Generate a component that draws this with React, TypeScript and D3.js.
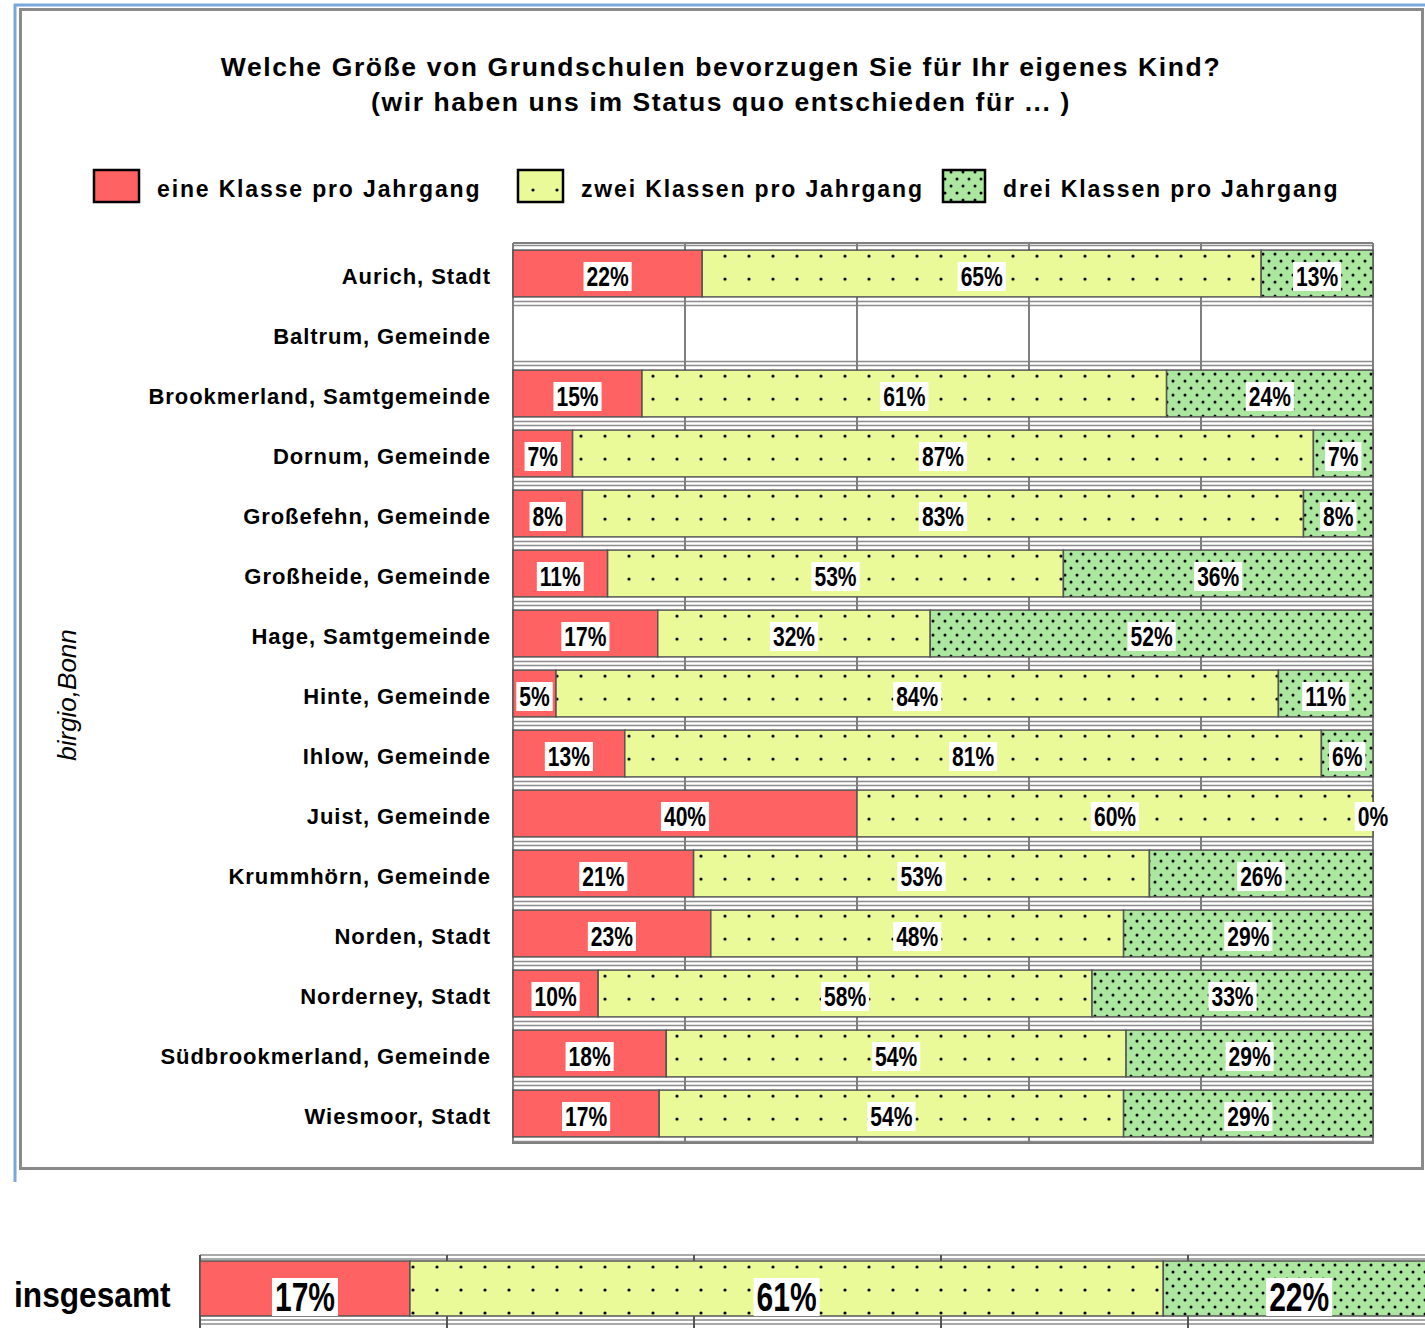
import * as d3 from 'd3';
import { useEffect, useRef } from 'react';

const categories = [
    "Aurich, Stadt",
    "Baltrum, Gemeinde",
    "Brookmerland, Samtgemeinde",
    "Dornum, Gemeinde",
    "Großefehn, Gemeinde",
    "Großheide, Gemeinde",
    "Hage, Samtgemeinde",
    "Hinte, Gemeinde",
    "Ihlow, Gemeinde",
    "Juist, Gemeinde",
    "Krummhörn, Gemeinde",
    "Norden, Stadt",
    "Norderney, Stadt",
    "Südbrookmerland, Gemeinde",
    "Wiesmoor, Stadt",
];
const eineKlasse = [22, null, 15, 7, 8, 11, 17, 5, 13, 40, 21, 23, 10, 18, 17];
const zweiKlassen = [65, null, 61, 87, 83, 53, 32, 84, 81, 60, 53, 48, 58, 54, 54];
const dreiKlassen = [13, null, 24, 7, 8, 36, 52, 11, 6, 0, 26, 29, 33, 29, 29];
const seriesNames = ["eine Klasse pro Jahrgang", "zwei Klassen pro Jahrgang", "drei Klassen pro Jahrgang"];
const totalLabel = "insgesamt";
const totalValues = [17, 61, 22];
const gridTicks = [0, 20, 40, 60, 80, 100];
const titleLines = [
    "Welche Größe von Grundschulen bevorzugen Sie für Ihr eigenes Kind?",
    "(wir haben uns im Status quo entschieden für ... )",
];
const sourceNote = "birgio,Bonn";

const FONT = '"Liberation Sans", Arial, Helvetica, sans-serif';
const colors = ["#ff6262", "#ebfa98", "#abe79f"];
const fills = ["#ff6262", "url(#dotsYellow)", "url(#dotsGreen)"];

function addLabel(parent, cx, cy, txt, size, sx, boxH) {
    const t = parent.append("text")
        .attr("transform", `translate(${cx},${cy}) scale(${sx},1)`)
        .attr("text-anchor", "middle")
        .attr("dy", "0.36em")
        .attr("font-family", FONT)
        .attr("font-weight", "bold")
        .attr("font-size", size)
        .attr("fill", "#000")
        .text(txt);
    const w = t.node().getComputedTextLength() * sx + 6;
    parent.insert("rect", () => t.node())
        .attr("x", cx - w / 2)
        .attr("y", cy - boxH / 2)
        .attr("width", w)
        .attr("height", boxH)
        .attr("fill", "#fff");
}

function App() {
    const svgRef = useRef(null);

    useEffect(() => {
        const svg = d3.select(svgRef.current);
        svg.selectAll("*").remove();

        const defs = svg.append("defs");
        const py = defs.append("pattern")
            .attr("id", "dotsYellow")
            .attr("patternUnits", "userSpaceOnUse")
            .attr("width", 24).attr("height", 23);
        py.append("rect").attr("width", 24).attr("height", 23).attr("fill", colors[1]);
        py.append("circle").attr("cx", 5).attr("cy", 6).attr("r", 1.6).attr("fill", "#000");

        const pg = defs.append("pattern")
            .attr("id", "dotsGreen")
            .attr("patternUnits", "userSpaceOnUse")
            .attr("width", 12).attr("height", 14);
        pg.append("rect").attr("width", 12).attr("height", 14).attr("fill", colors[2]);
        pg.append("circle").attr("cx", 3).attr("cy", 4).attr("r", 1.5).attr("fill", "#000");
        pg.append("circle").attr("cx", 9).attr("cy", 11).attr("r", 1.5).attr("fill", "#000");

        // frames
        svg.append("rect").attr("x", 20.5).attr("y", 9.5).attr("width", 1402).attr("height", 1159)
            .attr("fill", "none").attr("stroke", "#8a8a8a").attr("stroke-width", 3);
        svg.append("line").attr("x1", 15).attr("x2", 15).attr("y1", 4).attr("y2", 1182)
            .attr("stroke", "#7aa7dc").attr("stroke-width", 3);
        svg.append("line").attr("x1", 14).attr("x2", 1425).attr("y1", 5).attr("y2", 5)
            .attr("stroke", "#7aa7dc").attr("stroke-width", 3);

        // title
        titleLines.forEach((l, i) => {
            svg.append("text")
                .attr("x", 721).attr("y", 76 + i * 35)
                .attr("text-anchor", "middle")
                .attr("font-family", FONT).attr("font-weight", "bold")
                .attr("font-size", 26.5).attr("letter-spacing", 1.6)
                .text(l);
        });

        // legend
        const legendX = [94, 518, 943];
        seriesNames.forEach((name, i) => {
            svg.append("rect")
                .attr("x", legendX[i]).attr("y", 170).attr("width", i === 2 ? 42 : 45).attr("height", 32)
                .attr("fill", fills[i]).attr("stroke", "#000").attr("stroke-width", 2.5);
            svg.append("text")
                .attr("x", legendX[i] + (i === 2 ? 60 : 63)).attr("y", 197)
                .attr("font-family", FONT).attr("font-weight", "bold")
                .attr("font-size", 23).attr("letter-spacing", 1.85)
                .text(name);
        });

        // main plot
        const x = d3.scaleLinear().domain([0, 1]).range([513, 1373]);
        const y = d3.scaleBand().domain(categories).range([243.5, 1143.5])
            .paddingInner(0.22).paddingOuter(0.11);
        const bw = y.bandwidth();

        const rows = categories.map((c, i) => ({
            cat: c, has: eineKlasse[i] !== null,
            0: eineKlasse[i] ?? 0, 1: zweiKlassen[i] ?? 0, 2: dreiKlassen[i] ?? 0,
            vals: [eineKlasse[i], zweiKlassen[i], dreiKlassen[i]],
        }));
        const stacked = d3.stack().keys([0, 1, 2]).offset(d3.stackOffsetExpand)(rows);

        const plot = svg.append("g");
        categories.forEach(c => {
            [y(c) - 4.5, y(c) + bw + 4.5].forEach(yy => {
                plot.append("line").attr("x1", 513).attr("x2", 1373).attr("y1", yy).attr("y2", yy)
                    .attr("stroke", "#8c8c8c").attr("stroke-width", 1.5);
            });
        });
        gridTicks.forEach(t => {
            plot.append("line").attr("x1", x(t / 100)).attr("x2", x(t / 100))
                .attr("y1", 243).attr("y2", 1144)
                .attr("stroke", "#7f7f7f").attr("stroke-width", 2);
        });
        plot.append("line").attr("x1", 513).attr("x2", 1373).attr("y1", 243).attr("y2", 243)
            .attr("stroke", "#7f7f7f").attr("stroke-width", 2);
        plot.append("line").attr("x1", 513).attr("x2", 1373).attr("y1", 1143).attr("y2", 1143)
            .attr("stroke", "#7f7f7f").attr("stroke-width", 2);

        rows.forEach((r, j) => {
            if (!r.has) return;
            const g = plot.append("g").attr("transform", `translate(0,${y(r.cat)})`);
            stacked.forEach((s, i) => {
                const d = s[j];
                g.append("rect")
                    .attr("x", x(d[0])).attr("y", 0)
                    .attr("width", Math.max(0, x(d[1]) - x(d[0]))).attr("height", bw)
                    .attr("fill", fills[i])
                    .attr("stroke", "#555").attr("stroke-width", 1.5);
            });
            stacked.forEach((s, i) => {
                const d = s[j];
                addLabel(g, (x(d[0]) + x(d[1])) / 2, bw / 2 + 3, `${r.vals[i]}%`, 27, 0.78, 29);
            });
        });

        categories.forEach(c => {
            svg.append("text")
                .attr("x", 491).attr("y", y(c) + bw / 2 + 3)
                .attr("dy", "0.36em")
                .attr("text-anchor", "end")
                .attr("font-family", FONT).attr("font-weight", "bold")
                .attr("font-size", 22).attr("letter-spacing", 0.95)
                .text(c);
        });

        svg.append("text")
            .attr("transform", "translate(76,695) rotate(-90)")
            .attr("text-anchor", "middle")
            .attr("font-family", FONT).attr("font-style", "italic")
            .attr("font-size", 26)
            .text(sourceNote);

        // total bar
        const x2 = d3.scaleLinear().domain([0, 1]).range([200, 1435]);
        const tb = svg.append("g");
        [1255, 1259, 1320, 1324].forEach(yy => {
            tb.append("line").attr("x1", 200).attr("x2", 1425).attr("y1", yy).attr("y2", yy)
                .attr("stroke", "#8c8c8c").attr("stroke-width", 1.5);
        });
        gridTicks.forEach(t => {
            tb.append("line").attr("x1", x2(t / 100)).attr("x2", x2(t / 100))
                .attr("y1", 1255).attr("y2", 1328)
                .attr("stroke", "#555").attr("stroke-width", 2);
        });
        const totalRow = [{ 0: totalValues[0], 1: totalValues[1], 2: totalValues[2] }];
        const totalStack = d3.stack().keys([0, 1, 2]).offset(d3.stackOffsetExpand)(totalRow);
        const tg = tb.append("g").attr("transform", "translate(0,1261)");
        totalStack.forEach((s, i) => {
            const d = s[0];
            tg.append("rect")
                .attr("x", x2(d[0])).attr("y", 0)
                .attr("width", x2(d[1]) - x2(d[0])).attr("height", 55)
                .attr("fill", fills[i])
                .attr("stroke", "#555").attr("stroke-width", 1.5);
        });
        totalStack.forEach((s, i) => {
            const d = s[0];
            addLabel(tg, (x2(d[0]) + x2(d[1])) / 2, 36, `${totalValues[i]}%`, 40, 0.75, 38);
        });
        svg.append("text")
            .attr("transform", "translate(14,1307) scale(0.88,1)")
            .attr("font-family", FONT).attr("font-weight", "bold")
            .attr("font-size", 36)
            .text(totalLabel);
    }, []);

    return (
        <svg ref={svgRef} width={1425} height={1328}
            style={{ position: "absolute", left: 0, top: 0, background: "#fff" }} />
    );
}

export default App;
